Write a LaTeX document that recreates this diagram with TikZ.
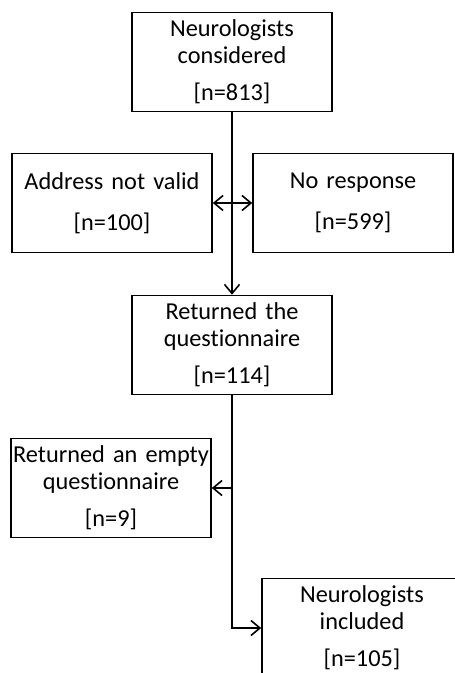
\documentclass[tikz,border=0pt]{standalone}
\usepackage{fontspec}
\setmainfont{Carlito}[Ligatures=NoCommon]
\usepackage{tikz}
\usetikzlibrary{arrows.meta,calc}
\tikzstyle{stage}=[draw, line width=1.6bp, text centered, align=center,
  text width=196bp, inner sep=2bp,
  minimum width=200bp, minimum height=99bp,
  font=\fontsize{24.4}{27}\selectfont]

\begin{document}
\begin{tikzpicture}[x=1bp, y=-1bp, line width=1.6bp,
  >={Straight Barb[length=9bp,width=15bp]}]
  \useasboundingbox (0,0) rectangle (455,673);
  \clip (0,0) rectangle (455,673);

  \node(cons)[stage] at (232,62){Neurologists\\considered\\[10pt]{[n=813]}};

  \path(cons)+(-120,141) node(addr)[stage]{Address not valid\\[14pt]{[n=100]}};
  \path(cons)+(121,141) node(noresp)[stage]{No response\\[14pt]{[n=599]}};

  \path(cons)+(0,283) node(ret)[stage]{Returned the\\questionnaire\\[10pt]{[n=114]}};
  \draw[->] (cons.south) -- (ret.north);
  \draw[<->] (addr.east) -- (noresp.west);

  \path(ret)+(-121,143) node(empty)[stage]{Returned an empty\\questionnaire\\[10pt]{[n=9]}};
  \path(ret)+(130,283) node(incl)[stage]{Neurologists\\included\\[10pt]{[n=105]}};

  \coordinate(split) at (ret.south |- empty.east);
  \draw[->] (split) -- (empty.east);
  \draw[->] (ret.south) |- (incl.west);
\end{tikzpicture}
\end{document}
